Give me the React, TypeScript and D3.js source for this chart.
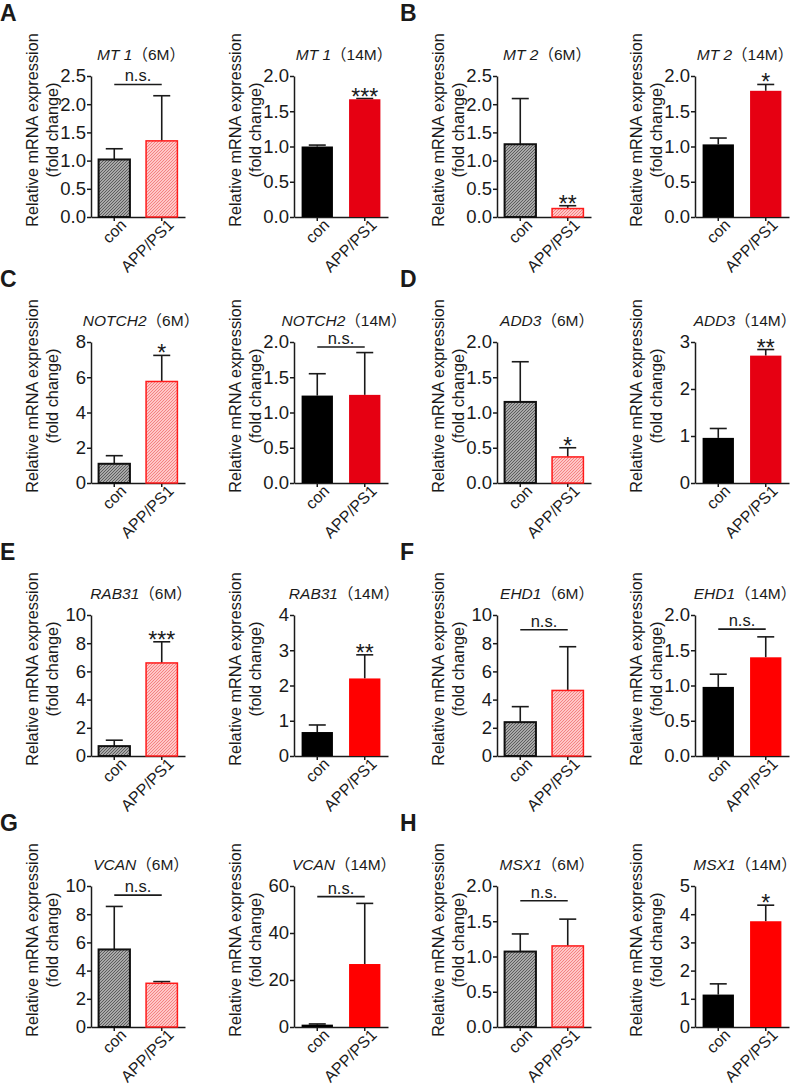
import React, { useEffect, useRef } from "react";
import * as d3 from "d3";

// one entry per small chart, read left to right, top to bottom
const panelLetters = ["A", "B", "C", "D", "E", "F", "G", "H"];
const genes = ["MT 1", "MT 1", "MT 2", "MT 2", "NOTCH2", "NOTCH2", "ADD3", "ADD3",
  "RAB31", "RAB31", "EHD1", "EHD1", "VCAN", "VCAN", "MSX1", "MSX1"];
const ages = ["6M", "14M", "6M", "14M", "6M", "14M", "6M", "14M",
  "6M", "14M", "6M", "14M", "6M", "14M", "6M", "14M"];
const groups = ["con", "APP/PS1"];

const conMeans = [1.02, 1.0, 1.29, 1.03, 1.09, 1.24, 1.15, 0.96, 0.7, 0.68, 2.4, 0.98, 5.5, 1.0, 1.07, 1.15];
const conErrors = [0.19, 0.02, 0.81, 0.09, 0.46, 0.31, 0.57, 0.2, 0.42, 0.2, 1.1, 0.18, 3.05, 0.3, 0.25, 0.38];
const appMeans = [1.35, 1.67, 0.15, 1.79, 5.76, 1.25, 0.37, 2.71, 6.6, 2.2, 4.65, 1.4, 3.1, 26.8, 1.15, 3.75];
const appErrors = [0.8, 0.01, 0.05, 0.09, 1.48, 0.6, 0.13, 0.13, 1.5, 0.67, 3.1, 0.29, 0.12, 25.8, 0.38, 0.57];

const yMaxes = [2.5, 2.0, 2.5, 2.0, 8, 2.0, 2.0, 3, 10, 4, 10, 2.0, 10, 60, 2.0, 5];
const yTickSteps = [0.5, 0.5, 0.5, 0.5, 2, 0.5, 0.5, 1, 2, 1, 2, 0.5, 2, 20, 0.5, 1];
const significance = ["n.s.", "***", "**", "*", "*", "n.s.", "*", "**",
  "***", "**", "n.s.", "n.s.", "n.s.", "n.s.", "n.s.", "*"];
const bracketLevels = [2.35, null, null, null, null, 1.93, null, null,
  null, null, 8.95, 1.8, 9.35, 55.5, 1.79, null];

// layout
const W = 796;
const H = 1087;
const colAxisX = [91, 294, 497, 695];
const rowBaseY = [217, 483, 756, 1027];
const plotH = 141;
const plotW = 94;
const FONT = "'Liberation Sans', Arial, sans-serif";
const INK = "#1a1a1a";

const App = () => {
  const svgRef = useRef<SVGSVGElement>(null);

  useEffect(() => {
    const svg = d3.select(svgRef.current);
    svg.selectAll("*").remove();

    const defs = svg.append("defs");
    const hatch = (id: string, bg: string, fg: string) => {
      const p = defs.append("pattern")
        .attr("id", id)
        .attr("patternUnits", "userSpaceOnUse")
        .attr("width", 3)
        .attr("height", 3);
      p.append("rect").attr("width", 3).attr("height", 3).attr("fill", bg);
      p.append("path")
        .attr("d", "M-1,1 l2,-2 M0,3 l3,-3 M2,4 l2,-2")
        .attr("stroke", fg)
        .attr("stroke-width", 0.9);
    };
    hatch("hatchCon", "#a8a8a8", "#555555");
    hatch("hatchApp", "#ffc6c6", "#f27a7a");

    genes.forEach((gene, i) => {
      const row = Math.floor(i / 4);
      const col = i % 4;
      const ax = colAxisX[col];
      const y0 = rowBaseY[row];
      const young = ages[i] === "6M";

      const g = svg.append("g").attr("font-family", FONT).attr("fill", INK);

      if (col % 2 === 0) {
        g.append("text")
          .attr("x", col === 0 ? 0 : 400)
          .attr("y", y0 - 196)
          .attr("font-size", 23)
          .attr("font-weight", "bold")
          .text(panelLetters[row * 2 + col / 2]);
      }

      const x = d3.scaleBand()
        .domain(groups)
        .range([ax, ax + plotW])
        .paddingInner(0.34)
        .paddingOuter(0.16);

      const y = d3.scaleLinear()
        .domain([0, yMaxes[i]])
        .range([y0, y0 - plotH]);

      const step = yTickSteps[i];
      const ticks = d3.range(0, yMaxes[i] + step / 2, step);
      const fmt = step < 1 ? d3.format(".1f") : d3.format("d");

      // y axis
      const yAxis = g.append("g")
        .attr("transform", `translate(${ax},0)`)
        .call(d3.axisLeft(y).tickValues(ticks).tickFormat(fmt as any).tickSize(4).tickSizeOuter(0).tickPadding(1));
      yAxis.selectAll("path, line").attr("stroke", INK).attr("stroke-width", 1.5);
      yAxis.selectAll("text").attr("font-size", 18.5).attr("font-family", FONT).attr("fill", INK);

      // x axis
      const xAxis = g.append("g")
        .attr("transform", `translate(0,${y0})`)
        .call(d3.axisBottom(x).tickSize(4).tickSizeOuter(0));
      xAxis.selectAll("path, line").attr("stroke", INK).attr("stroke-width", 1.5);
      xAxis.selectAll("text")
        .attr("font-size", 16)
        .attr("font-family", FONT)
        .attr("fill", INK)
        .attr("x", 0)
        .attr("y", 0)
        .attr("dy", "0.35em")
        .attr("text-anchor", "end")
        .attr("transform", "translate(9,5) rotate(-45)");

      // y label
      const labelY = y0 - 87;
      g.append("text")
        .attr("transform", `translate(${ax - 53},${labelY}) rotate(-90)`)
        .attr("text-anchor", "middle")
        .attr("font-size", 16.3)
        .text("Relative mRNA expression");
      g.append("text")
        .attr("transform", `translate(${ax - 33},${labelY}) rotate(-90)`)
        .attr("text-anchor", "middle")
        .attr("font-size", 16.3)
        .text("(fold change)");

      // title
      const title = g.append("text")
        .attr("x", ax + 50)
        .attr("y", y0 - 157)
        .attr("text-anchor", "middle")
        .attr("font-size", 15.5);
      title.append("tspan").attr("font-style", "italic").text(gene);
      title.append("tspan")
        .attr("font-family", "'Liberation Sans', 'Noto Sans CJK SC', sans-serif")
        .text(`（${ages[i]}）`);

      const means = [conMeans[i], appMeans[i]];
      const errs = [conErrors[i], appErrors[i]];
      const bw = x.bandwidth();
      const strongRed = row < 2 ? "#e60012" : "#ff0000";

      const fills = young ? ["url(#hatchCon)", "url(#hatchApp)"] : ["#000000", strongRed];
      const strokes = young ? ["#111111", "#ff1a1a"] : ["none", "none"];
      const strokeW = [2, 1.5];

      // error bars
      groups.forEach((grp, k) => {
        const cx = (x(grp) as number) + bw / 2;
        const top = y(means[k] + errs[k]);
        g.append("line")
          .attr("x1", cx).attr("x2", cx)
          .attr("y1", y(means[k])).attr("y2", top)
          .attr("stroke", INK).attr("stroke-width", 1.6);
        g.append("line")
          .attr("x1", cx - 8.5).attr("x2", cx + 8.5)
          .attr("y1", top).attr("y2", top)
          .attr("stroke", INK).attr("stroke-width", 1.6);
      });

      // bars
      g.selectAll(".bar")
        .data(groups)
        .join("rect")
        .attr("class", "bar")
        .attr("x", d => x(d) as number)
        .attr("y", (d, k) => y(means[k]))
        .attr("width", bw)
        .attr("height", (d, k) => y0 - y(means[k]))
        .attr("fill", (d, k) => fills[k])
        .attr("stroke", (d, k) => strokes[k])
        .attr("stroke-width", (d, k) => strokeW[k]);

      // significance
      const level = bracketLevels[i];
      if (level !== null) {
        const by = y(level);
        const c0 = (x(groups[0]) as number) + bw / 2;
        const c1 = (x(groups[1]) as number) + bw / 2;
        g.append("line")
          .attr("x1", c0).attr("x2", c1)
          .attr("y1", by).attr("y2", by)
          .attr("stroke", INK).attr("stroke-width", 1.6);
        g.append("text")
          .attr("x", (c0 + c1) / 2)
          .attr("y", by - 3)
          .attr("text-anchor", "middle")
          .attr("font-size", 16.5)
          .text(significance[i]);
      } else {
        const c1 = (x(groups[1]) as number) + bw / 2;
        g.append("text")
          .attr("x", c1)
          .attr("y", y(appMeans[i] + appErrors[i]) + 6)
          .attr("text-anchor", "middle")
          .attr("font-size", 23)
          .text(significance[i]);
      }
    });
  }, []);

  return (
    <svg
      ref={svgRef}
      width={W}
      height={H}
      style={{ position: "absolute", left: 0, top: 0, background: "#fff" }}
    />
  );
};

export default App;
